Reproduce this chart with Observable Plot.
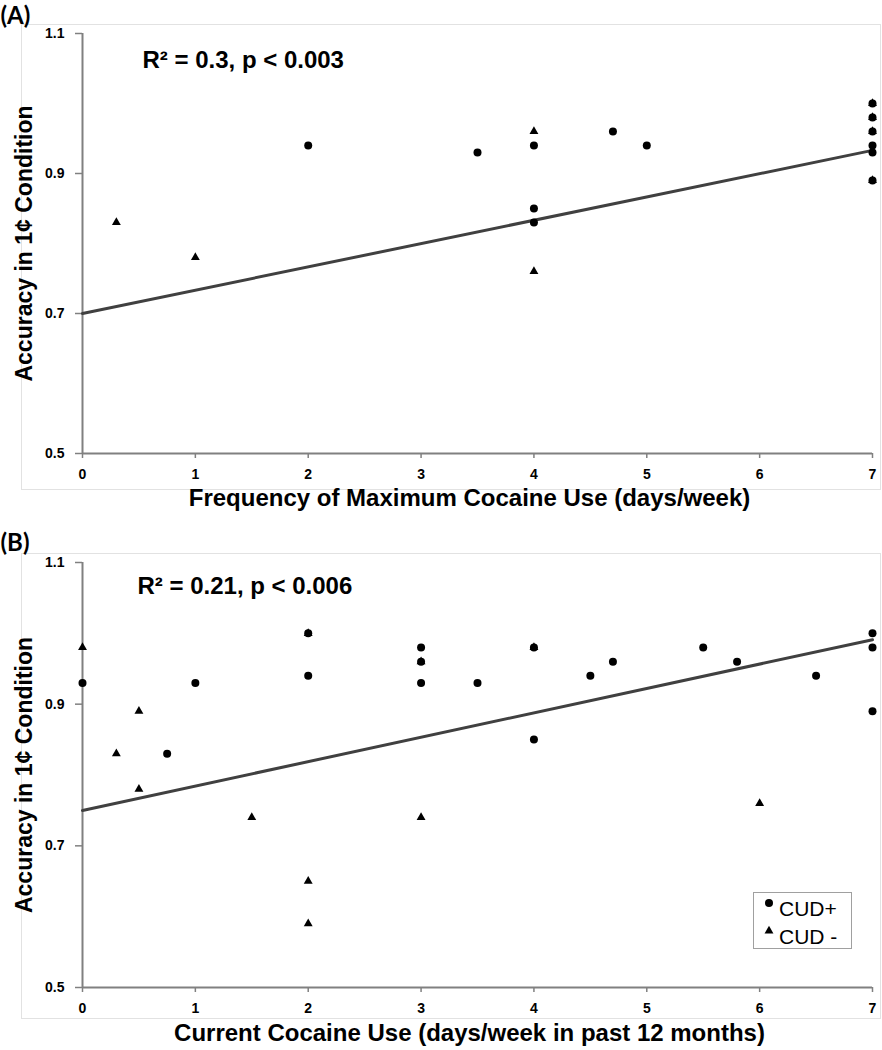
<!DOCTYPE html>
<html>
<head>
<meta charset="utf-8">
<script src="https://cdn.jsdelivr.net/npm/d3@7"></script>
<script src="https://cdn.jsdelivr.net/npm/@observablehq/plot@0.6"></script>
<style>
  body { margin: 0; background: #fff; }
  #wrap { position: relative; width: 882px; height: 1050px; overflow: hidden; background: #fff;
          font-family: "Liberation Sans", Arial, sans-serif; }
  #wrap > svg { display: block; }
  .legend { position: absolute; left: 753px; top: 892px; width: 99px; height: 57px;
            border: 1px solid #a0a0a0; background: #fff; box-sizing: border-box; }
  .legend svg { position: absolute; overflow: visible; }
  .legend span { position: absolute; font-size: 21px; line-height: 21px; color: #000; white-space: pre; }
</style>
</head>
<body>
<div id="wrap"></div>
<script>
// ---- shared axis ticks ----
const xTicks = [0, 1, 2, 3, 4, 5, 6, 7];
const yTicks = [0.5, 0.7, 0.9, 1.1];

// ---- Panel A: Frequency of Maximum Cocaine Use ----
const aPlusX  = [2, 3.5, 4, 4.7, 5, 4, 4, 7, 7, 7, 7, 7, 7];
const aPlusY  = [0.94, 0.93, 0.94, 0.96, 0.94, 0.85, 0.83, 1.00, 0.98, 0.96, 0.94, 0.93, 0.89];
const aMinusX = [0.3, 1, 4, 4, 7, 7, 7, 7];
const aMinusY = [0.83, 0.78, 0.96, 0.76, 1.00, 0.98, 0.96, 0.89];
const aFitX   = [0, 7];
const aFitY   = [0.70, 0.933];

// ---- Panel B: Current Cocaine Use ----
const bPlusX  = [0, 0.75, 1, 2, 2, 3, 3, 3, 3.5, 4, 4, 4.5, 4.7, 5.5, 5.8, 6.5, 7, 7, 7];
const bPlusY  = [0.93, 0.83, 0.93, 1.00, 0.94, 0.98, 0.96, 0.93, 0.93, 0.98, 0.85, 0.94, 0.96, 0.98, 0.96, 0.94, 1.00, 0.98, 0.89];
const bMinusX = [0, 0.3, 0.5, 0.5, 1.5, 2, 2, 3, 6, 2, 3, 4];
const bMinusY = [0.98, 0.83, 0.89, 0.78, 0.74, 0.65, 0.59, 0.74, 0.76, 1.00, 0.96, 0.98];
const bFitX   = [0, 7];
const bFitY   = [0.75, 0.991];

const panelLabels = ["(A)", "(B)"];
const statTexts = ["R\u00B2 = 0.3, p < 0.003", "R\u00B2 = 0.21, p < 0.006"];
const xTitles = ["Frequency of Maximum Cocaine Use (days/week)", "Current Cocaine Use (days/week in past 12 months)"];
const yTitle = "Accuracy in 1\u00A2 Condition";
const legendLabels = ["CUD+", "CUD -"];

const FONT = '"Liberation Sans", Arial, sans-serif';
const AXIS = "#808080";

function zip(xs, ys) { return xs.map((x, i) => ({x, y: ys[i]})); }

function panel(o) {
  return Plot.plot({
    width: 882, height: o.height,
    marginLeft: 82, marginRight: 10, marginTop: o.marginTop, marginBottom: o.marginBottom,
    style: {fontFamily: FONT, background: "white", overflow: "visible"},
    x: {domain: [0, 7]},
    y: {domain: [0.5, 1.1]},
    marks: [
      Plot.frame({stroke: "#e2e2e2", strokeWidth: 1, insetLeft: -61, insetRight: -8, insetTop: o.frameTop, insetBottom: o.frameBottom}),
      Plot.axisY(yTicks, {tickSize: 7, tickPadding: 11, stroke: AXIS, strokeWidth: 1.5, fill: "black",
                          fontSize: 14, fontWeight: "bold", label: null, tickFormat: d => d3.format(".1f")(d)}),
      Plot.axisX(xTicks, {tickSize: 5, tickPadding: 11, stroke: AXIS, strokeWidth: 1.5, fill: "black",
                          fontSize: 14, fontWeight: "bold", label: null}),
      Plot.ruleX([0], {stroke: AXIS, strokeWidth: 2}),
      Plot.ruleY([0.5], {stroke: AXIS, strokeWidth: 2}),
      Plot.line(zip(o.fitX, o.fitY), {x: "x", y: "y", stroke: "#404040", strokeWidth: 3}),
      Plot.dot(zip(o.minusX, o.minusY), {x: "x", y: "y", symbol: "triangle", r: 3.3, fill: "black"}),
      Plot.dot(zip(o.plusX, o.plusY), {x: "x", y: "y", symbol: "circle", r: 4, fill: "black"}),
      Plot.text([o.stat], {frameAnchor: "top-left", dx: o.statDx, dy: o.statDy, textAnchor: "start",
                           lineAnchor: "middle", fontSize: 24, fontWeight: "bold", fill: "black"}),
      Plot.text([o.label], {frameAnchor: "top-left", dx: -82, dy: o.labelDy, textAnchor: "start",
                            lineAnchor: "middle", fontSize: 24, fontWeight: "bold", fill: "black",
                            fontFamily: "Lato, 'Open Sans', sans-serif"}),
      Plot.text([yTitle], {frameAnchor: "left", dx: -58, rotate: -90, textAnchor: "middle",
                           lineAnchor: "middle", fontSize: 23, fontWeight: "bold", fill: "black"}),
      Plot.text([o.xTitle], {frameAnchor: "bottom", dx: -8, dy: o.titleDy, textAnchor: "middle",
                             lineAnchor: "middle", fontSize: 24, fontWeight: "bold", fill: "black"})
    ]
  });
}

const wrap = document.getElementById("wrap");

wrap.appendChild(panel({
  height: 525, marginTop: 33, marginBottom: 72, frameTop: -9, frameBottom: -36,
  plusX: aPlusX, plusY: aPlusY, minusX: aMinusX, minusY: aMinusY, fitX: aFitX, fitY: aFitY,
  stat: statTexts[0], statDx: 60, statDy: 27, label: panelLabels[0], labelDy: -17,
  xTitle: xTitles[0], titleDy: 45
}));

wrap.appendChild(panel({
  height: 525, marginTop: 37, marginBottom: 63, frameTop: -9, frameBottom: -31,
  plusX: bPlusX, plusY: bPlusY, minusX: bMinusX, minusY: bMinusY, fitX: bFitX, fitY: bFitY,
  stat: statTexts[1], statDx: 55, statDy: 24, label: panelLabels[1], labelDy: -19,
  xTitle: xTitles[1], titleDy: 46
}));

// ---- legend (panel B) ----
const legend = document.createElement("div");
legend.className = "legend";
const shapes = [d3.symbolCircle, d3.symbolTriangle];
const sizes = [Math.PI * 16, Math.PI * 3.3 * 3.3];
const markerPos = [[15, 10], [15, 38]];
const textPos = [[25, 5], [25, 33]];
legendLabels.forEach((lab, i) => {
  const s = d3.create("svg").attr("width", 1).attr("height", 1)
    .style("left", markerPos[i][0] + "px").style("top", markerPos[i][1] + "px");
  s.append("path").attr("d", d3.symbol(shapes[i], sizes[i])()).attr("fill", "black");
  legend.appendChild(s.node());
  const t = document.createElement("span");
  t.textContent = lab;
  t.style.left = textPos[i][0] + "px";
  t.style.top = textPos[i][1] + "px";
  legend.appendChild(t);
});
wrap.appendChild(legend);
</script>
</body>
</html>
